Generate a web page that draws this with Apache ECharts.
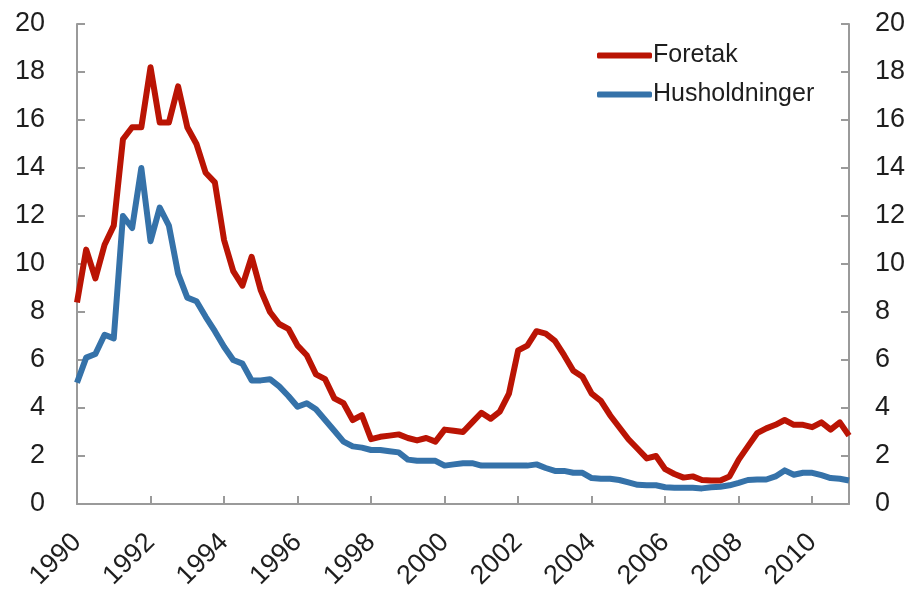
<!DOCTYPE html>
<html>
<head>
<meta charset="utf-8">
<script src="https://cdn.jsdelivr.net/npm/echarts@6/dist/echarts.min.js"></script>
<style>
  html, body { margin: 0; padding: 0; background: #fff; }
  #chart { width: 915px; height: 600px; }
</style>
</head>
<body>
<div id="chart"></div>
<script>
// kvartalstall 1990K1 - 2011K1
const quarters = []
for (let y = 1990; y <= 2011; y++) {
  for (let q = 1; q <= 4; q++) {
    if (quarters.length < 85) quarters.push(y + ' K' + q)
  }
}

const foretak = [
  8.4, 10.6, 9.4, 10.8,
  11.6, 15.2, 15.7, 15.7,
  18.2, 15.9, 15.9, 17.4,
  15.7, 15.0, 13.8, 13.4,
  11.0, 9.7, 9.1, 10.3,
  8.9, 8.0, 7.5, 7.3,
  6.6, 6.2, 5.4, 5.2,
  4.4, 4.2, 3.5, 3.7,
  2.7, 2.8, 2.85, 2.9,
  2.75, 2.65, 2.75, 2.6,
  3.1, 3.05, 3.0, 3.4,
  3.8, 3.55, 3.85, 4.6,
  6.4, 6.6, 7.2, 7.1,
  6.8, 6.2, 5.55, 5.3,
  4.6, 4.3, 3.7, 3.2,
  2.7, 2.3, 1.9, 2.0,
  1.45, 1.25, 1.1, 1.15,
  1.0, 0.98, 0.98, 1.15,
  1.85, 2.4, 2.95, 3.15,
  3.3, 3.5, 3.3, 3.3,
  3.2, 3.4, 3.1, 3.4,
  2.85
]

const husholdninger = [
  5.05, 6.1, 6.25, 7.05,
  6.9, 12.0, 11.5, 14.0,
  10.95, 12.35, 11.6, 9.6,
  8.6, 8.45, 7.8, 7.2,
  6.55, 6.0, 5.85, 5.15,
  5.15, 5.2, 4.9, 4.5,
  4.05, 4.2, 3.95, 3.5,
  3.05, 2.6, 2.4, 2.35,
  2.25, 2.25, 2.2, 2.15,
  1.85, 1.8, 1.8, 1.8,
  1.6, 1.65, 1.7, 1.7,
  1.6, 1.6, 1.6, 1.6,
  1.6, 1.6, 1.65, 1.5,
  1.38, 1.38, 1.3, 1.3,
  1.08, 1.05, 1.05, 1.0,
  0.9, 0.8, 0.78, 0.78,
  0.7, 0.68, 0.68, 0.68,
  0.65, 0.7, 0.72, 0.78,
  0.88, 1.0, 1.02, 1.02,
  1.15, 1.4, 1.22, 1.3,
  1.3, 1.2, 1.08, 1.05,
  0.98
]

const red = '#BA1404'
const blue = '#3572A9'
const axisGrey = '#9a9a9a'
const textColor = '#1e1e1e'
const font = 'Liberation Sans'

const chart = echarts.init(document.getElementById('chart'))

const yAxisBase = {
  type: 'value',
  min: 0,
  max: 20,
  interval: 2,
  axisLine: { show: true, lineStyle: { color: axisGrey, width: 2 } },
  axisTick: { show: true, inside: true, length: 8, lineStyle: { color: axisGrey, width: 2 } },
  splitLine: { show: false },
  axisLabel: { fontFamily: font, fontSize: 27, color: textColor }
}

chart.setOption({
  animation: false,
  grid: { left: 77, right: 66, top: 24, bottom: 96 },
  legend: {
    orient: 'vertical',
    left: 592,
    top: 38,
    itemWidth: 55,
    itemHeight: 6,
    itemGap: 14,
    icon: 'roundRect',
    textStyle: { fontFamily: font, fontSize: 25, color: textColor, padding: [0, 0, 0, -4] },
    data: ['Foretak', 'Husholdninger']
  },
  xAxis: {
    type: 'category',
    data: quarters,
    boundaryGap: false,
    axisLine: { lineStyle: { color: axisGrey, width: 2 } },
    axisTick: { inside: true, length: 8, interval: 7, lineStyle: { color: axisGrey, width: 2 } },
    axisLabel: {
      interval: 7,
      rotate: 45,
      margin: 34,
      fontFamily: font,
      fontSize: 27,
      color: textColor,
      formatter: function (v) { return v.slice(0, 4) }
    }
  },
  yAxis: [
    Object.assign({}, yAxisBase, { position: 'left', axisLabel: Object.assign({}, yAxisBase.axisLabel, { margin: 32 }) }),
    Object.assign({}, yAxisBase, { position: 'right', axisLabel: Object.assign({}, yAxisBase.axisLabel, { margin: 26 }) })
  ],
  series: [
    {
      name: 'Foretak',
      type: 'line',
      data: foretak,
      showSymbol: false,
      lineStyle: { color: red, width: 6, join: 'round' },
      itemStyle: { color: red }
    },
    {
      name: 'Husholdninger',
      type: 'line',
      data: husholdninger,
      showSymbol: false,
      lineStyle: { color: blue, width: 6, join: 'round' },
      itemStyle: { color: blue }
    }
  ]
})
</script>
</body>
</html>
